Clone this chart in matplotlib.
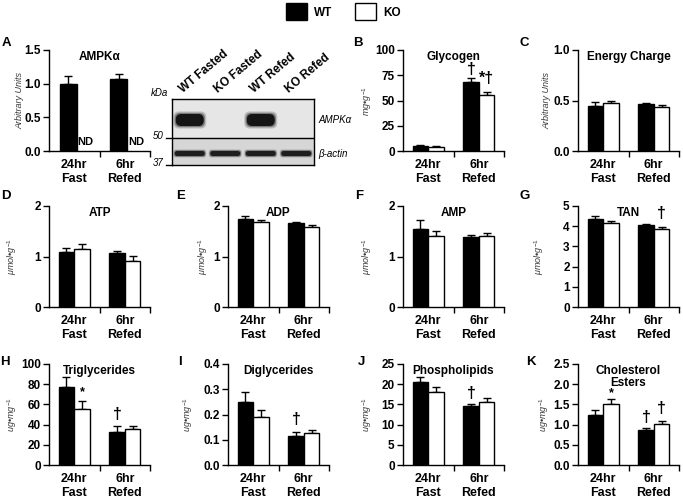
import matplotlib
matplotlib.use('Agg')
import matplotlib.pyplot as plt
from matplotlib.patches import Patch, FancyBboxPatch
import numpy as np

plt.rcParams['font.family'] = ['Liberation Sans', 'DejaVu Sans']
plt.rcParams['mathtext.fontset'] = 'custom'
plt.rcParams['mathtext.rm'] = 'Liberation Sans'
plt.rcParams['mathtext.it'] = 'Liberation Sans:italic'
plt.rcParams['mathtext.bf'] = 'Liberation Sans:bold'

groups = ['24hr\nFast', '6hr\nRefed']

# values, [24hr Fast, 6hr Refed]
ampk_wt, ampk_wt_err = [1.00, 1.07], [0.12, 0.08]
glyc_wt, glyc_wt_err = [5.2, 68.5], [1.2, 3.8]
glyc_ko, glyc_ko_err = [4.4, 55.5], [0.8, 2.6]
ec_wt, ec_wt_err = [0.45, 0.465], [0.035, 0.01]
ec_ko, ec_ko_err = [0.475, 0.44], [0.025, 0.015]
atp_wt, atp_wt_err = [1.08, 1.06], [0.09, 0.04]
atp_ko, atp_ko_err = [1.14, 0.92], [0.10, 0.09]
adp_wt, adp_wt_err = [1.75, 1.66], [0.05, 0.03]
adp_ko, adp_ko_err = [1.68, 1.58], [0.05, 0.05]
amp_wt, amp_wt_err = [1.55, 1.38], [0.17, 0.04]
amp_ko, amp_ko_err = [1.40, 1.41], [0.10, 0.06]
tan_wt, tan_wt_err = [4.38, 4.05], [0.13, 0.05]
tan_ko, tan_ko_err = [4.18, 3.85], [0.08, 0.12]
tg_wt, tg_wt_err = [77, 33], [10, 5.5]
tg_ko, tg_ko_err = [55, 35.5], [8, 3.5]
dg_wt, dg_wt_err = [0.25, 0.114], [0.038, 0.018]
dg_ko, dg_ko_err = [0.19, 0.128], [0.026, 0.009]
pl_wt, pl_wt_err = [20.6, 14.7], [1.2, 0.3]
pl_ko, pl_ko_err = [18.0, 15.6], [1.2, 0.9]
ce_wt, ce_wt_err = [1.25, 0.87], [0.10, 0.04]
ce_ko, ce_ko_err = [1.52, 1.01], [0.12, 0.08]

# western blot band presence per lane
lanes = ['WT Fasted', 'KO Fasted', 'WT Refed', 'KO Refed']
ampk_band = [1, 0, 1, 0]
actin_band = [1, 1, 1, 1]

FIG_W, FIG_H = 683, 499
fig = plt.figure(figsize=(6.83, 4.99), dpi=100)


def px_axes(x0, y0, w, h):
    return fig.add_axes([x0 / FIG_W, 1 - (y0 + h) / FIG_H, w / FIG_W, h / FIG_H])


umol = r'$\mathit{\mu mol}$•$\mathit{g^{-1}}$'
mgg = r'$\mathit{mg}$•$\mathit{g^{-1}}$'
ugmg = r'$\mathit{ug}$•$\mathit{mg^{-1}}$'

panels = [
    dict(l='A', t='AMPKα', yl='Arbitrary Units', ticks=np.arange(0, 1.51, 0.5), fmt='{:.1f}',
         wt=ampk_wt, wte=ampk_wt_err, ko=None, koe=None, pos=(49, 50), lp=(2, 37), yo=25,
         marks=[], shift=0.05, bw=0.34),
    dict(l='B', t='Glycogen', yl=mgg, ticks=np.arange(0, 101, 25), fmt='{:.0f}',
         wt=glyc_wt, wte=glyc_wt_err, ko=glyc_ko, koe=glyc_ko_err, pos=(403, 50), lp=(353, 37), yo=29,
         marks=[('wt', 1, '†', 81), ('ko', 1, '*†', 72)]),
    dict(l='C', t='Energy Charge', yl='Arbitrary Units', ticks=np.arange(0, 1.01, 0.5), fmt='{:.1f}',
         wt=ec_wt, wte=ec_wt_err, ko=ec_ko, koe=ec_ko_err, pos=(578, 50), lp=(520, 37), yo=27,
         marks=[]),
    dict(l='D', t='ATP', yl=umol, ticks=np.arange(0, 2.1, 1), fmt='{:.0f}',
         wt=atp_wt, wte=atp_wt_err, ko=atp_ko, koe=atp_ko_err, pos=(49, 206), lp=(1, 190), yo=30,
         marks=[]),
    dict(l='E', t='ADP', yl=umol, ticks=np.arange(0, 2.1, 1), fmt='{:.0f}',
         wt=adp_wt, wte=adp_wt_err, ko=adp_ko, koe=adp_ko_err, pos=(228, 206), lp=(176, 190), yo=18,
         marks=[]),
    dict(l='F', t='AMP', yl=umol, ticks=np.arange(0, 2.1, 1), fmt='{:.0f}',
         wt=amp_wt, wte=amp_wt_err, ko=amp_ko, koe=amp_ko_err, pos=(403, 206), lp=(355, 190), yo=29,
         marks=[]),
    dict(l='G', t='TAN', yl=umol, ticks=np.arange(0, 5.1, 1), fmt='{:.0f}',
         wt=tan_wt, wte=tan_wt_err, ko=tan_ko, koe=tan_ko_err, pos=(578, 206), lp=(520, 190), yo=32,
         marks=[('ko', 1, '†', 4.62)]),
    dict(l='H', t='Triglycerides', yl=ugmg, ticks=np.arange(0, 101, 20), fmt='{:.0f}',
         wt=tg_wt, wte=tg_wt_err, ko=tg_ko, koe=tg_ko_err, pos=(49, 364), lp=(0, 356), yo=30,
         marks=[('ko', 0, '*', 72), ('wt', 1, '†', 50)]),
    dict(l='I', t='Diglycerides', yl=ugmg, ticks=np.arange(0, 0.41, 0.1), fmt='{:.1f}',
         wt=dg_wt, wte=dg_wt_err, ko=dg_ko, koe=dg_ko_err, pos=(228, 364), lp=(178, 356), yo=33,
         marks=[('wt', 1, '†', 0.18)]),
    dict(l='J', t='Phospholipids', yl=ugmg, ticks=np.arange(0, 26, 5), fmt='{:.0f}',
         wt=pl_wt, wte=pl_wt_err, ko=pl_ko, koe=pl_ko_err, pos=(403, 364), lp=(358, 356), yo=29,
         marks=[('wt', 1, '†', 17.8)]),
    dict(l='K', t='Cholesterol\nEsters', yl=ugmg, ticks=np.arange(0, 2.51, 0.5), fmt='{:.1f}',
         wt=ce_wt, wte=ce_wt_err, ko=ce_ko, koe=ce_ko_err, pos=(578, 364), lp=(526, 356), yo=27,
         marks=[('ko', 0, '*', 1.77), ('wt', 1, '†', 1.17), ('ko', 1, '†', 1.41)]),
]

AX_W, AX_H = 101, 101
x = np.arange(len(groups))

for p in panels:
    ax = px_axes(p['pos'][0], p['pos'][1], AX_W, AX_H)
    bw = p.get('bw', 0.31)
    shift = p.get('shift', 0.0)
    xw = x + shift - bw / 2
    xk = x + shift + bw / 2
    ax.bar(xw, p['wt'], bw, color='black', edgecolor='black', linewidth=1, zorder=3)
    ax.errorbar(xw, p['wt'], yerr=[np.zeros(2), p['wte']], fmt='none', ecolor='black',
                elinewidth=1, capsize=3, capthick=1, zorder=2)
    if p['ko'] is not None:
        ax.bar(xk, p['ko'], bw, color='white', edgecolor='black', linewidth=1, zorder=3)
        ax.errorbar(xk, p['ko'], yerr=[np.zeros(2), p['koe']], fmt='none', ecolor='black',
                    elinewidth=1, capsize=3, capthick=1, zorder=2)
    else:
        for xi in xk:
            ax.text(xi, 0.04 * p['ticks'][-1], 'ND', ha='center', va='bottom',
                    fontsize=8, fontweight='bold')
    for who, gi, s, yv in p['marks']:
        xx = xw[gi] if who == 'wt' else xk[gi]
        ax.text(xx, yv, s, ha='center', va='center', fontweight='bold',
                fontsize=9 if s == '*' else 11.5)

    ax.set_xlim(-0.5, 1.5)
    ax.set_ylim(0, p['ticks'][-1])
    ax.set_yticks(p['ticks'])
    ax.set_yticklabels([p['fmt'].format(t) for t in p['ticks']], fontweight='bold', fontsize=8.5)
    ax.set_xticks(x)
    ax.set_xticklabels(groups, fontweight='bold', fontsize=9, linespacing=1.15)
    ax.set_xticks([0.5, 1.5], minor=True)
    ax.tick_params(axis='x', which='major', length=0, pad=6)
    ax.tick_params(axis='x', which='minor', length=4, width=1, direction='out')
    ax.tick_params(axis='y', length=4, width=1, direction='out', pad=2)
    for side in ['top', 'right']:
        ax.spines[side].set_visible(False)
    for side in ['left', 'bottom']:
        ax.spines[side].set_linewidth(1)
    ax.set_ylabel(p['yl'], fontsize=6.5, fontstyle='italic', color='#3a3a3a')
    ax.yaxis.set_label_coords(-p['yo'] / AX_W, 0.5)
    ax.text(0.5, 0.995, p['t'], transform=ax.transAxes, ha='center', va='top',
            fontsize=8.5, fontweight='bold', linespacing=1.0)
    fig.text(p['lp'][0] / FIG_W, 1 - p['lp'][1] / FIG_H, p['l'], ha='left', va='top',
             fontsize=9.5, fontweight='bold')

# western blot
bx = px_axes(172, 99, 142, 66)
bx.set_xlim(0, 142)
bx.set_ylim(66, 0)
bx.set_xticks([])
bx.set_yticks([])
bx.axhspan(0, 39, color='#e6e6e6', zorder=0)
bx.axhspan(39, 66, color='#d6d6d6', zorder=0)
bx.axhline(39, color='black', lw=1)
for sp in bx.spines.values():
    sp.set_linewidth(1)
lane_w = 142 / len(lanes)
for i, lab in enumerate(lanes):
    cx = lane_w * (i + 0.5)
    if ampk_band[i]:
        for grow, alpha in [(2.5, 0.2), (1.2, 0.4), (0.0, 1.0)]:
            bx.add_patch(FancyBboxPatch((cx - 14 - grow, 15 - grow), 28 + 2 * grow, 12 + 2 * grow,
                                        boxstyle='round,pad=0,rounding_size=5.5',
                                        fc='#151515', ec='none', alpha=alpha))
    if actin_band[i]:
        for grow, alpha in [(1.5, 0.2), (0.8, 0.4), (0.0, 1.0)]:
            bx.add_patch(FancyBboxPatch((cx - 15 - grow, 52 - grow), 30 + 2 * grow, 5 + 2 * grow,
                                        boxstyle='round,pad=0,rounding_size=2.5',
                                        fc='#1e1e1e', ec='none', alpha=alpha))
    bx.text(cx - 7, -6, lab, rotation=40, rotation_mode='anchor', ha='left', va='baseline',
            fontsize=8.5, fontweight='bold', clip_on=False)
bx.text(-4, -6, 'kDa', ha='right', va='center', fontsize=7, fontstyle='italic', clip_on=False)
for yv, lab in [(39, '50'), (66, '37')]:
    bx.plot([-6, 0], [yv, yv], color='black', lw=1, clip_on=False)
    bx.text(-8, yv - 2, lab, ha='right', va='center', fontsize=7, fontstyle='italic', clip_on=False)
bx.text(146, 21, 'AMPKα', ha='left', va='center', fontsize=7, fontstyle='italic', clip_on=False)
bx.text(146, 55, 'β-actin', ha='left', va='center', fontsize=7, fontstyle='italic', clip_on=False)

fig.legend(handles=[Patch(fc='black', ec='black', lw=1), Patch(fc='white', ec='black', lw=1)],
           labels=['WT', 'KO'], ncol=2, loc='upper center', bbox_to_anchor=(0.503, 1.005),
           frameon=False, handlelength=1.8, handleheight=1.8, handletextpad=0.6,
           columnspacing=1.9, prop={'weight': 'bold', 'size': 8.5}, borderaxespad=0.1)

fig.savefig('out.png', dpi=100)
